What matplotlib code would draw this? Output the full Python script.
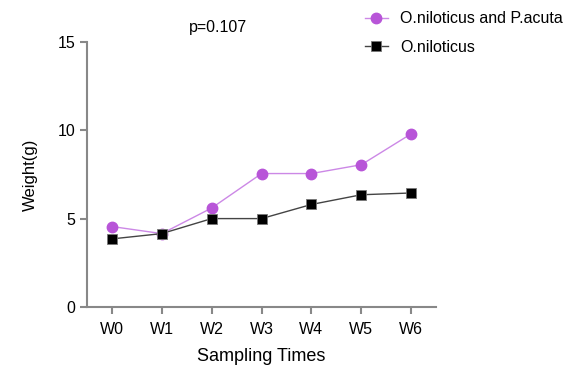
import matplotlib
matplotlib.use("Agg")
import matplotlib.pyplot as plt

plt.rcParams["font.family"] = ["Liberation Sans", "DejaVu Sans"]

times = ["W0", "W1", "W2", "W3", "W4", "W5", "W6"]
mixed = [4.55, 4.15, 5.6, 7.55, 7.55, 8.05, 9.8]
single = [3.85, 4.15, 5.0, 5.0, 5.8, 6.35, 6.45]
series_names = ["O.niloticus and P.acuta", "O.niloticus"]
title_text = "p=0.107"

fig = plt.figure(figsize=(5.8, 3.68), dpi=100)
ax = fig.add_axes([0.15, 0.166, 0.602, 0.72])

x = list(range(len(times)))
ax.plot(x, mixed, color="#cc88e6", lw=1.0, marker="o", ms=7.5,
        mfc="#b855d8", mec="#b855d8", label=series_names[0], zorder=3)
ax.plot(x, single, color="#444444", lw=1.0, marker="s", ms=7.5,
        mfc="black", mec="#777777", mew=0.6, label=series_names[1], zorder=3)

ax.set_xlim(-0.5, len(times) - 0.5)
ax.set_ylim(0, 15)
ax.set_yticks([0, 5, 10, 15])
ax.set_xticks(x)
ax.set_xticklabels(times)

for s in ["top", "right"]:
    ax.spines[s].set_visible(False)
for s in ["left", "bottom"]:
    ax.spines[s].set_color("#888888")
    ax.spines[s].set_linewidth(1.5)
ax.tick_params(axis="both", colors="#888888", width=1.5, length=5,
               labelcolor="black", labelsize=11.5)
ax.tick_params(axis="x", pad=6)

ax.set_xlabel("Sampling Times", fontsize=13, labelpad=8)
ax.set_ylabel("Weight(g)", fontsize=12, labelpad=14)

fig.text(0.376, 0.925, title_text, fontsize=11.5, ha="center", va="center")

fig.legend(loc="upper left", bbox_to_anchor=(0.605, 1.008), frameon=False,
           fontsize=11.5, handlelength=1.4, handletextpad=0.8, labelspacing=0.85)

fig.savefig("out.png", dpi=100)
